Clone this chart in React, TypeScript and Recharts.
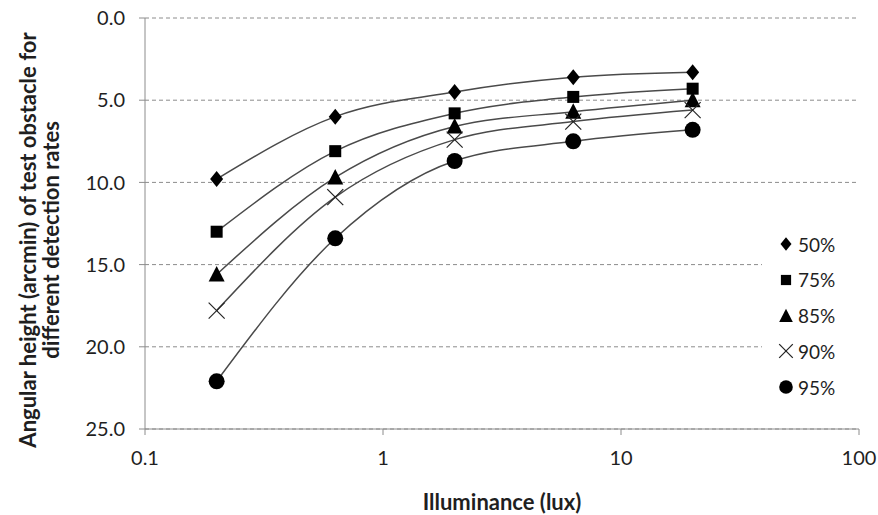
import { ComposedChart, Line, XAxis, YAxis, CartesianGrid } from "recharts";

const illuminance = [0.2, 0.63, 2, 6.3, 20];
const rate50 = [9.8, 6.0, 4.5, 3.6, 3.3];
const rate75 = [13.0, 8.1, 5.8, 4.8, 4.3];
const rate85 = [15.6, 9.7, 6.6, 5.7, 5.0];
const rate90 = [17.8, 10.9, 7.4, 6.3, 5.6];
const rate95 = [22.1, 13.4, 8.7, 7.5, 6.8];

const xTicks = [0.1, 1, 10, 100];
const yTicks = [0, 5, 10, 15, 20, 25];

type Marker = "diamond" | "square" | "triangle" | "x" | "circle";

const SERIES: { label: string; values: number[]; marker: Marker }[] = [
  { label: "50%", values: rate50, marker: "diamond" },
  { label: "75%", values: rate75, marker: "square" },
  { label: "85%", values: rate85, marker: "triangle" },
  { label: "90%", values: rate90, marker: "x" },
  { label: "95%", values: rate95, marker: "circle" },
];

const FONT = "Lato, 'Open Sans', sans-serif";
const TEXT = "#1f1f1f";

function MarkerShape({ kind, cx, cy, k = 1 }: { kind: Marker; cx: number; cy: number; k?: number }) {
  switch (kind) {
    case "diamond":
      return <polygon points={`${cx},${cy - 8 * k} ${cx + 6.5 * k},${cy} ${cx},${cy + 8 * k} ${cx - 6.5 * k},${cy}`} fill="#000" />;
    case "square":
      return <rect x={cx - 6 * k} y={cy - 6 * k} width={12 * k} height={12 * k} fill="#000" />;
    case "triangle":
      return <polygon points={`${cx},${cy - 8.5 * k} ${cx + 8 * k},${cy + 7 * k} ${cx - 8 * k},${cy + 7 * k}`} fill="#000" />;
    case "x":
      return (
        <g stroke="#222" strokeWidth={1.2}>
          <line x1={cx - 8 * k} y1={cy - 8 * k} x2={cx + 8 * k} y2={cy + 8 * k} />
          <line x1={cx - 8 * k} y1={cy + 8 * k} x2={cx + 8 * k} y2={cy - 8 * k} />
        </g>
      );
    default:
      return <circle cx={cx} cy={cy} r={8 * k} fill="#000" />;
  }
}

function YTitle() {
  const cy = 240;
  const style = { fontFamily: FONT, fontSize: 22, fontWeight: 700, fill: TEXT };
  return (
    <g>
      <text x={27} y={cy} transform={`rotate(-90, 27, ${cy})`} textAnchor="middle" dominantBaseline="central" style={style}>
        Angular height (arcmin) of test obstacle for
      </text>
      <text x={50} y={cy} transform={`rotate(-90, 50, ${cy})`} textAnchor="middle" dominantBaseline="central" style={style}>
        different detection rates
      </text>
    </g>
  );
}

export default function App() {
  const tickStyle = { fill: TEXT, fontSize: 20, fontFamily: FONT };
  return (
    <div style={{ position: "absolute", left: 0, top: 0, width: 878, height: 515, background: "#fff" }}>
      <ComposedChart width={878} height={515} margin={{ top: 18, right: 19, bottom: 56, left: 85 }}>
        <CartesianGrid vertical={false} stroke="#8c8c8c" strokeDasharray="4 3" />
        <XAxis
          dataKey="x"
          type="number"
          scale="log"
          domain={[0.1, 100]}
          ticks={xTicks}
          allowDataOverflow
          height={30}
          stroke="#8c8c8c"
          tickSize={6}
          tickMargin={16}
          tick={tickStyle}
          tickFormatter={(v: number) => String(v)}
          label={{ value: "Illuminance (lux)", position: "insideBottom", offset: -51, style: { fontFamily: FONT, fontSize: 22, fontWeight: 700, fill: TEXT } }}
        />
        <YAxis
          type="number"
          reversed
          domain={[0, 25]}
          ticks={yTicks}
          width={60}
          stroke="#8c8c8c"
          tickSize={6}
          tickMargin={14}
          tick={tickStyle}
          tickFormatter={(v: number) => v.toFixed(1)}
          label={<YTitle />}
        />
        {SERIES.map((s) => (
          <Line
            key={s.label}
            data={illuminance.map((x, i) => ({ x, y: s.values[i] }))}
            dataKey="y"
            type="monotone"
            stroke="#4a4a4a"
            strokeWidth={1.5}
            dot={(p: any) => <MarkerShape key={`${s.label}-${p.index}`} kind={s.marker} cx={p.cx} cy={p.cy} />}
            activeDot={false}
            isAnimationActive={false}
          />
        ))}
      </ComposedChart>
      <div style={{ position: "absolute", left: 762, top: 226, width: 96, height: 178, background: "#fff" }}>
        {SERIES.map((s, i) => (
          <div key={s.label} style={{ position: "absolute", left: 14, top: 7 + i * 35.8, height: 22, display: "flex", alignItems: "center" }}>
            <svg width={20} height={20} style={{ display: "block" }}>
              <MarkerShape kind={s.marker} cx={10} cy={10} k={0.85} />
            </svg>
            <span style={{ fontFamily: FONT, fontSize: 19, color: TEXT, marginLeft: 2 }}>{s.label}</span>
          </div>
        ))}
      </div>
    </div>
  );
}
